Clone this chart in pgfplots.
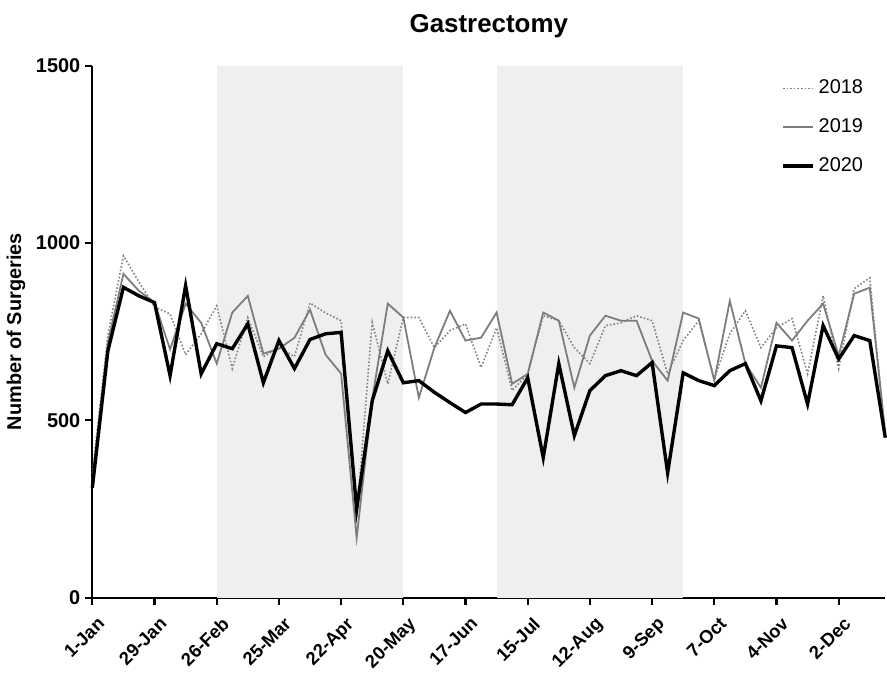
\documentclass[border=0pt]{standalone}
\usepackage{pgfplots}
\pgfplotsset{compat=1.18}
\usepackage{fontspec}
\setmainfont{Liberation Sans}

\definecolor{shade}{RGB}{239,239,239}
\definecolor{line19}{RGB}{125,125,125}
\definecolor{line18}{RGB}{130,130,130}

\begin{document}
\begin{tikzpicture}
\begin{axis}[
  scale only axis,
  width=398pt, height=267pt,
  xmin=0, xmax=51,
  ymin=0, ymax=1500,
  axis x line*=bottom,
  axis y line*=left,
  axis line style={line width=1.1pt, -},
  xtick={0,4,...,48},
  xticklabels={1-Jan,29-Jan,26-Feb,25-Mar,22-Apr,20-May,17-Jun,15-Jul,12-Aug,9-Sep,7-Oct,4-Nov,2-Dec},
  ytick={0,500,1000,1500},
  tick align=outside,
  major tick length=3.5pt,
  tick style={line width=1.1pt, black},
  /pgf/number format/assume math mode=true,
  /pgf/number format/1000 sep={},
  yticklabel style={font=\fontsize{10}{12}\selectfont\bfseries, xshift=1pt},
  xticklabel style={font=\fontsize{9.2}{11}\selectfont\bfseries, rotate=45, anchor=north east, xshift=1pt, yshift=-2pt},
  ylabel={\bfseries Number of Surgeries},
  ylabel style={font=\fontsize{10}{12}\selectfont, yshift=-1.5pt},
  title={\bfseries Gastrectomy},
  title style={font=\fontsize{13}{15}\selectfont, inner ysep=7.3pt, yshift=0.4pt},
  legend style={draw=none, fill=none, at={(rel axis cs:1,1)}, anchor=north east,
    xshift=-6pt, yshift=-3pt, font=\fontsize{10}{12}\selectfont,
    row sep=7pt, legend cell align=left},
  legend image code/.code={\draw[#1] (0pt,0pt) -- (15pt,0pt);},
  clip=false,
]
% lockdown periods
\addplot[fill=shade, draw=none, forget plot] coordinates {(8,0) (8,1500) (20,1500) (20,0)} -- cycle;
\addplot[fill=shade, draw=none, forget plot] coordinates {(26,0) (26,1500) (38,1500) (38,0)} -- cycle;

% 2018
\addplot[line18, line width=0.8pt, densely dotted] coordinates {
(0,350) (1,740) (2,964) (3,890) (4,820) (5,800) (6,685) (7,744) (8,823) (9,646)
(10,790) (11,679) (12,705) (13,680) (14,831) (15,803) (16,781) (17,225) (18,776) (19,603)
(20,790) (21,790) (22,705) (23,753) (24,772) (25,649) (26,761) (27,584) (28,631) (29,795)
(30,781) (31,705) (32,660) (33,767) (34,775) (35,795) (36,781) (37,631) (38,725) (39,781)
(40,617) (41,744) (42,809) (43,705) (44,761) (45,787) (46,631) (47,851) (48,646) (49,871)
(50,902) (51,451)};
\addlegendentry{2018}

% 2019
\addplot[line19, line width=0.9pt] coordinates {
(0,330) (1,720) (2,913) (3,865) (4,832) (5,700) (6,829) (7,775) (8,660) (9,804)
(10,851) (11,688) (12,702) (13,733) (14,812) (15,685) (16,632) (17,169) (18,560) (19,829)
(20,790) (21,564) (22,705) (23,809) (24,725) (25,733) (26,804) (27,603) (28,631) (29,804)
(30,781) (31,592) (32,739) (33,795) (34,781) (35,781) (36,668) (37,612) (38,804) (39,787)
(40,612) (41,837) (42,660) (43,592) (44,775) (45,725) (46,781) (47,829) (48,682) (49,857)
(50,874) (51,462)};
\addlegendentry{2019}

% 2020
\addplot[black, line width=1.7pt] coordinates {
(0,310) (1,696) (2,875) (3,851) (4,832) (5,626) (6,880) (7,631) (8,716) (9,702)
(10,772) (11,606) (12,725) (13,646) (14,728) (15,744) (16,748) (17,250) (18,555) (19,696)
(20,606) (21,612) (22,579) (23,550) (24,522) (25,546) (26,546) (27,544) (28,620) (29,395)
(30,660) (31,457) (32,584) (33,626) (34,640) (35,626) (36,663) (37,352) (38,634) (39,612)
(40,598) (41,640) (42,660) (43,555) (44,710) (45,705) (46,546) (47,767) (48,673) (49,739)
(50,725) (51,451)};
\addlegendentry{2020}
\end{axis}
\end{tikzpicture}
\end{document}
